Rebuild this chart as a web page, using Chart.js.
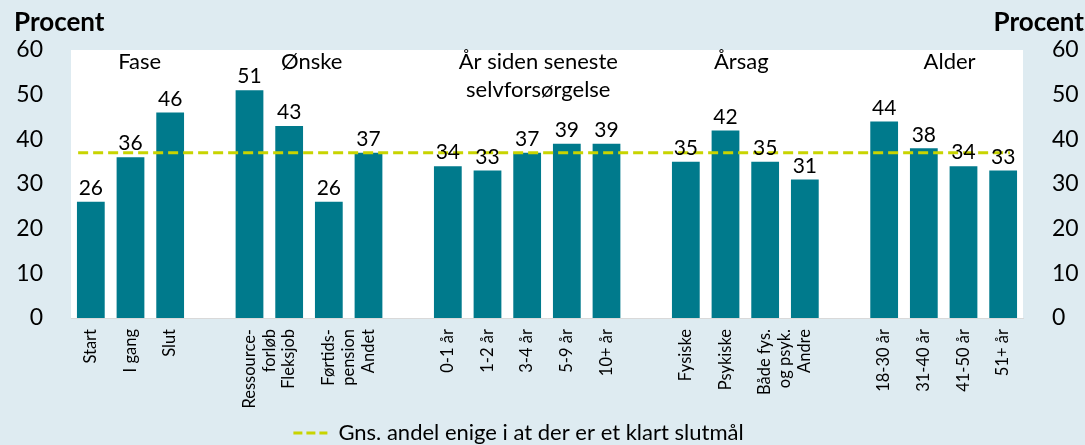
<!DOCTYPE html>
<html>
<head>
<meta charset="utf-8">
<script src="https://cdn.jsdelivr.net/npm/chart.js@4.4.1/dist/chart.umd.min.js"></script>
<style>
  html, body { margin: 0; padding: 0; background: #deebf1; }
  #wrap { width: 1085px; height: 445px; }
</style>
</head>
<body>
<div id="wrap"><canvas id="chart" width="1085" height="445"></canvas></div>
<script>
// kategorier (tomme strenge = mellemrum mellem grupper)
const categories = [
  'Start', 'I gang', 'Slut', '',
  ['Ressource-', 'forløb'], 'Fleksjob', ['Førtids-', 'pension'], 'Andet', '',
  '0-1 år', '1-2 år', '3-4 år', '5-9 år', '10+ år', '',
  'Fysiske', 'Psykiske', ['Både fys.', 'og psyk.'], 'Andre', '',
  '18-30 år', '31-40 år', '41-50 år', '51+ år'
];
const values = [
  26, 36, 46, null,
  51, 43, 26, 37, null,
  34, 33, 37, 39, 39, null,
  35, 42, 35, 31, null,
  44, 38, 34, 33
];
const average = 37;
const groupTitles = ['Fase', 'Ønske', ['År siden seneste', 'selvforsørgelse'], 'Årsag', 'Alder'];
const yTicks = [0, 10, 20, 30, 40, 50, 60];
const legendText = 'Gns. andel enige i at der er et klart slutmål';

const FONT = 'Lato, "Open Sans", sans-serif';
const barColor = '#007a8c';
const lineColor = '#c8d400';

// hvid plotflade + flyt legenden lidt
const plotBg = {
  id: 'plotBg',
  afterLayout(chart) {
    const lg = chart.legend;
    lg.left -= 24; lg.right -= 24;
    lg.top += 9; lg.bottom += 9;
  },
  beforeDraw(chart) {
    const a = chart.chartArea, ctx = chart.ctx;
    ctx.save();
    ctx.fillStyle = '#ffffff';
    ctx.fillRect(a.left, a.top, a.right - a.left, a.bottom - a.top);
    ctx.restore();
  }
};

// tal over søjler, gruppe-titler og "Procent"
const annotations = {
  id: 'annotations',
  afterDatasetsDraw(chart) {
    const ctx = chart.ctx;
    const meta = chart.getDatasetMeta(0);
    ctx.save();
    ctx.fillStyle = '#000';
    ctx.textAlign = 'center';
    ctx.textBaseline = 'bottom';
    ctx.font = '21px ' + FONT;
    meta.data.forEach((bar, i) => {
      if (values[i] == null) return;
      ctx.fillText(values[i], bar.x, bar.y - 3);
    });

    const xs = chart.scales.x;
    const titlePos = [1.23, 5.57, 11.28, 16.4, 21.65];
    ctx.textBaseline = 'middle';
    ctx.font = '22px ' + FONT;
    groupTitles.forEach((t, i) => {
      const x = xs.getPixelForValue(titlePos[i]);
      const lines = Array.isArray(t) ? t : [t];
      lines.forEach((l, j) => {
        ctx.fillText(l, x, chart.chartArea.top + 12 + j * 28);
      });
    });

    ctx.font = 'bold 26px ' + FONT;
    ctx.textAlign = 'left';
    ctx.fillText('Procent', 14, 23);
    ctx.textAlign = 'right';
    ctx.fillText('Procent', 1084, 23);
    ctx.restore();
  }
};

new Chart(document.getElementById('chart'), {
  type: 'bar',
  data: {
    labels: categories,
    datasets: [{
      type: 'bar',
      label: 'Andel',
      data: values,
      backgroundColor: barColor,
      grouped: false,
      barPercentage: 0.7,
      categoryPercentage: 1,
      xAxisID: 'x',
      yAxisID: 'y',
      order: 2
    }, {
      type: 'line',
      label: legendText,
      data: [{ x: -0.32, y: average }, { x: 23.17, y: average }],
      borderColor: lineColor,
      borderWidth: 3,
      borderDash: [10, 5],
      pointRadius: 0,
      xAxisID: 'xLine',
      yAxisID: 'y',
      order: 1
    }]
  },
  options: {
    responsive: false,
    animation: false,
    layout: { padding: { top: 50, left: 0, right: 0, bottom: 0 } },
    plugins: {
      tooltip: { enabled: false },
      legend: {
        position: 'bottom',
        labels: {
          font: { family: FONT, size: 22 },
          color: '#000',
          usePointStyle: true,
          pointStyleWidth: 34,
          boxHeight: 8,
          padding: 2,
          generateLabels() {
            return [{
              text: legendText,
              pointStyle: 'line',
              strokeStyle: lineColor,
              fillStyle: lineColor,
              lineWidth: 3,
              lineDash: [9, 4],
              datasetIndex: 1
            }];
          }
        }
      }
    },
    scales: {
      x: {
        type: 'category',
        offset: true,
        grid: { display: false, drawTicks: false },
        border: { color: '#d9d9d9' },
        ticks: {
          autoSkip: false,
          maxRotation: 90,
          minRotation: 90,
          padding: 11,
          color: '#000',
          font: { family: FONT, size: 16.5 }
        },
        afterFit(scale) { scale.height = 93; }
      },
      xLine: {
        type: 'linear',
        display: false,
        offset: false,
        min: -0.5,
        max: 23.5
      },
      y: {
        position: 'left',
        min: 0,
        max: 60,
        afterBuildTicks(scale) { scale.ticks = yTicks.map(v => ({ value: v })); },
        grid: { display: false, drawTicks: false },
        border: { display: false },
        ticks: { padding: 28, color: '#000', font: { family: FONT, size: 23 } },
        afterFit(scale) { scale.width = 71; }
      },
      y2: {
        position: 'right',
        min: 0,
        max: 60,
        afterBuildTicks(scale) { scale.ticks = yTicks.map(v => ({ value: v })); },
        grid: { display: false, drawTicks: false },
        border: { display: false },
        ticks: { padding: 29, color: '#000', font: { family: FONT, size: 23 } },
        afterFit(scale) { scale.width = 62; }
      }
    }
  },
  plugins: [plotBg, annotations]
});
</script>
</body>
</html>
